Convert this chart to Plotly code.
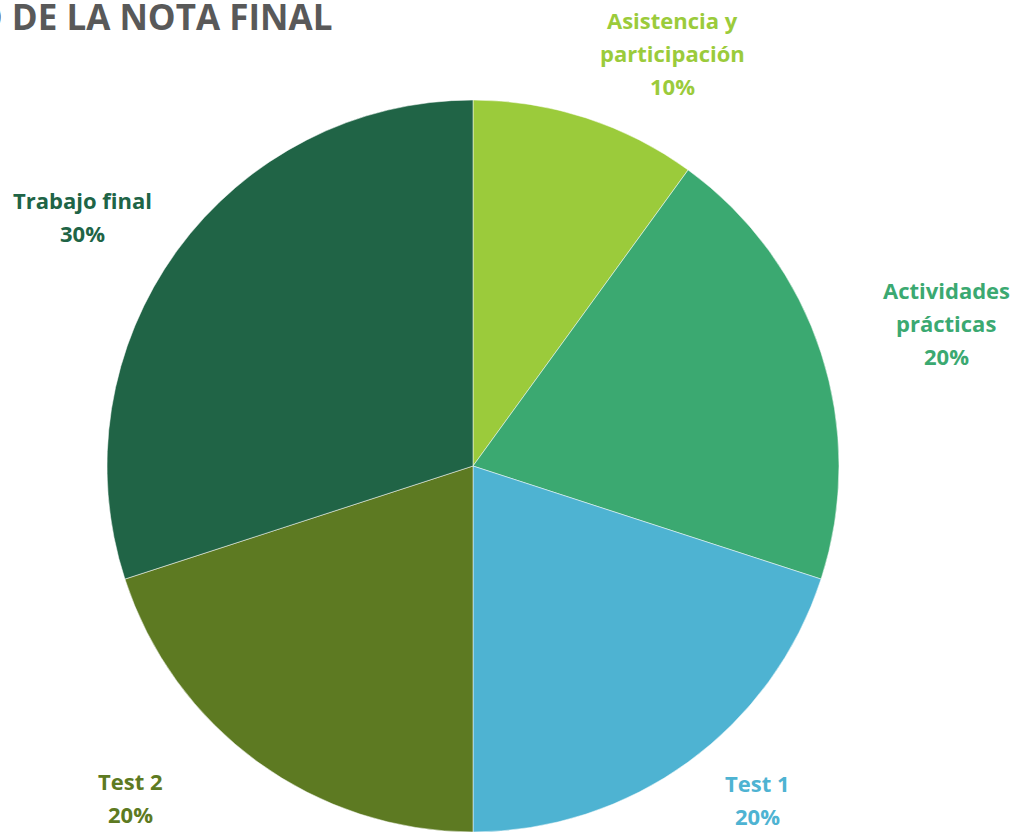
import plotly.graph_objects as go

W, H = 1014, 832

title_text = "PESO DE LA NOTA FINAL"
labels = ["Asistencia y participación", "Actividades prácticas", "Test 1", "Test 2", "Trabajo final"]
label_lines = [["Asistencia y", "participación"], ["Actividades", "prácticas"], ["Test 1"], ["Test 2"], ["Trabajo final"]]
values = [10, 20, 20, 20, 30]
colors = ["#9BCB3B", "#3BA971", "#4EB3D2", "#5D7A22", "#206446"]
# label centre (px from left, px from top of first line)
label_pos = [(672, 20), (946, 290), (757, 783), (130, 781), (82, 200)]

FONT = "Open Sans"

cx0, cy0, R = 473, 467, 367
fig = go.Figure(go.Pie(
    labels=labels,
    values=values,
    sort=False,
    direction="clockwise",
    rotation=0,
    marker=dict(colors=colors, line=dict(color="white", width=0.5)),
    textinfo="none",
    hoverinfo="label+percent",
    showlegend=False,
    domain=dict(x=[(cx0 - R) / W, (cx0 + R) / W],
                y=[max(0, (H - cy0 - R) / H), (H - cy0 + R) / H]),
))

total = sum(values)
annotations = []
LINE = 33
for lines, v, col, (cx, cy) in zip(label_lines, values, colors, label_pos):
    all_lines = lines + [f"{round(100 * v / total)}%"]
    for i, t in enumerate(all_lines):
        annotations.append(dict(
            text=f"<b>{t}</b>", x=cx / W, y=1 - (cy + i * LINE) / H,
            xref="paper", yref="paper", xanchor="center", yanchor="middle",
            showarrow=False, font=dict(family=FONT, size=22, color=col),
        ))

annotations.append(dict(
    text=f"<b>{title_text}</b>", x=334 / W, y=1 - 17 / H,
    xref="paper", yref="paper", xanchor="right", yanchor="middle",
    showarrow=False, font=dict(family=FONT, size=35, color="#595959"),
))

fig.update_layout(
    width=W, height=H,
    margin=dict(l=0, r=0, t=0, b=0),
    paper_bgcolor="white", plot_bgcolor="white",
    annotations=annotations,
)

fig.write_html("out.html", config={"displayModeBar": False},
               post_script="document.body.style.margin='0';")
